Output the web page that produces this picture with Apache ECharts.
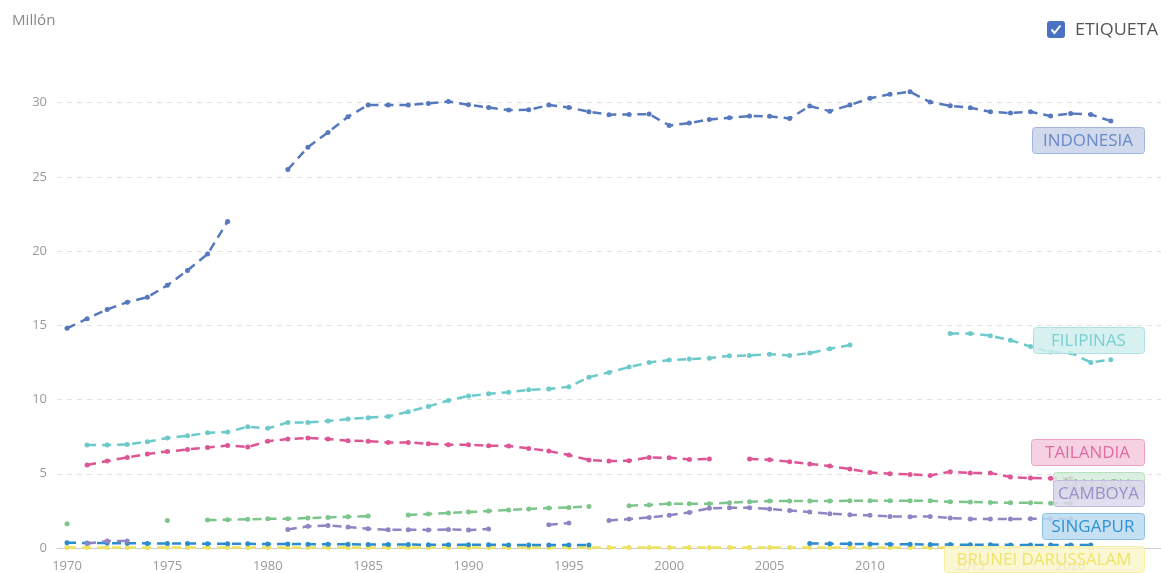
<!DOCTYPE html>
<html>
<head>
<meta charset="utf-8">
<script src="https://cdn.jsdelivr.net/npm/echarts@6/dist/echarts.min.js"></script>
<style>
  html, body { margin: 0; padding: 0; background: #fff; }
  #chart { width: 1161px; height: 573px; }
</style>
</head>
<body>
<div id="chart"></div>
<script>
  // años 1970 - 2024
  const years = [
    '1970','1971','1972','1973','1974','1975','1976','1977','1978','1979',
    '1980','1981','1982','1983','1984','1985','1986','1987','1988','1989',
    '1990','1991','1992','1993','1994','1995','1996','1997','1998','1999',
    '2000','2001','2002','2003','2004','2005','2006','2007','2008','2009',
    '2010','2011','2012','2013','2014','2015','2016','2017','2018','2019',
    '2020','2021','2022','2023','2024'
  ];

  const indonesia = [
    14.8, 15.45, 16.07, 16.56, 16.9, 17.7, 18.7, 19.8, 22.0, null,
    null, 25.5, 27.0, 28.0, 29.05, 29.85, 29.85, 29.84, 29.95, 30.08,
    29.86, 29.68, 29.5, 29.52, 29.84, 29.68, 29.39, 29.19, 29.21, 29.23,
    28.47, 28.63, 28.87, 28.98, 29.1, 29.08, 28.94, 29.77, 29.43, 29.84,
    30.3, 30.57, 30.73, 30.04, 29.79, 29.66, 29.39, 29.3, 29.39, 29.1,
    29.27, 29.21, 28.76, null, null
  ];
  const filipinas = [
    null, 6.94, 6.94, 6.98, 7.16, 7.41, 7.56, 7.76, 7.81, 8.17,
    8.06, 8.46, 8.46, 8.55, 8.69, 8.78, 8.86, 9.18, 9.54, 9.94,
    10.24, 10.39, 10.5, 10.66, 10.71, 10.86, 11.51, 11.83, 12.19, 12.5,
    12.66, 12.73, 12.79, 12.95, 12.97, 13.06, 12.97, 13.13, 13.42, 13.67,
    null, null, null, null, 14.45, 14.45, 14.3, 14.0, 13.57, 13.2,
    13.15, 12.5, 12.68, null, null
  ];
  const tailandia = [
    null, 5.59, 5.86, 6.1, 6.33, 6.5, 6.64, 6.77, 6.91, 6.8,
    7.2, 7.34, 7.41, 7.34, 7.23, 7.2, 7.11, 7.11, 7.02, 6.96,
    6.96, 6.89, 6.87, 6.71, 6.53, 6.26, 5.93, 5.86, 5.88, 6.1,
    6.08, 5.97, 6.0, null, 6.0, 5.95, 5.81, 5.66, 5.52, 5.32,
    5.09, 5.0, 4.96, 4.89, 5.14, 5.05, 5.05, 4.78, 4.71, 4.7,
    4.7, null, null, null, null
  ];
  const malasia = [
    1.64, null, null, null, null, 1.86, null, 1.88, 1.91, 1.93,
    1.97, 1.97, 2.02, 2.06, 2.11, 2.15, null, 2.22, 2.29, 2.36,
    2.42, 2.49, 2.56, 2.63, 2.69, 2.73, 2.8, null, 2.85, 2.9,
    2.98, 2.98, 2.98, 3.05, 3.12, 3.16, 3.17, 3.17, 3.17, 3.18,
    3.18, 3.18, 3.18, 3.18, 3.12, 3.1, 3.07, 3.05, 3.05, 3.02,
    3.0, null, null, null, null
  ];
  const camboya = [
    null, 0.3, 0.47, 0.47, null, null, null, null, null, null,
    null, 1.25, 1.46, 1.52, 1.41, 1.3, 1.23, 1.23, 1.22, 1.25,
    1.21, 1.28, null, null, 1.57, 1.68, null, 1.86, 1.95, 2.06,
    2.2, 2.4, 2.67, 2.71, 2.71, 2.63, 2.53, 2.42, 2.31, 2.24,
    2.2, 2.13, 2.11, 2.13, 2.02, 1.95, 1.95, 1.95, 1.97, 1.97,
    1.95, null, null, null, null
  ];
  const singapur = [
    0.35, 0.34, 0.33, 0.32, 0.31, 0.3, 0.3, 0.29, 0.28, 0.28,
    0.27, 0.27, 0.26, 0.26, 0.25, 0.24, 0.23, 0.23, 0.22, 0.22,
    0.22, 0.22, 0.21, 0.21, 0.21, 0.2, 0.2, null, null, null,
    null, null, null, null, null, null, null, 0.3, 0.29, 0.28,
    0.27, 0.26, 0.25, 0.24, 0.23, 0.22, 0.22, 0.21, 0.21, 0.2,
    0.2, 0.2, null, null, null
  ];
  const brunei = [
    0.03, 0.03, 0.03, 0.03, 0.03, 0.03, 0.03, 0.03, 0.03, 0.03,
    0.03, 0.03, 0.03, 0.03, 0.03, 0.03, 0.03, 0.03, 0.03, 0.03,
    0.03, 0.03, 0.03, 0.03, 0.03, 0.03, 0.03, 0.03, 0.03, 0.03,
    0.03, 0.03, 0.03, 0.03, 0.03, 0.03, 0.03, 0.03, 0.03, 0.03,
    0.03, 0.03, 0.03, 0.03, 0.03, 0.03, 0.03, 0.03, 0.03, 0.03,
    0.03, 0.03, null, null, null
  ];

  const yTicks = [0, 5, 10, 15, 20, 25, 30];

  // nombre, datos, color de línea, color del texto de la etiqueta
  const paises = [
    { name: 'BRUNEI DARUSSALAM', data: brunei, color: '#eee35c', text: '#efe46a' },
    { name: 'SINGAPUR', data: singapur, color: '#2b8dd0', text: '#2f92d6' },
    { name: 'CAMBOYA', data: camboya, color: '#9284c4', text: '#9a8dca' },
    { name: 'MALASIA', data: malasia, color: '#7cc68b', text: '#86c994' },
    { name: 'TAILANDIA', data: tailandia, color: '#de5595', text: '#df6ba3' },
    { name: 'FILIPINAS', data: filipinas, color: '#6ccacb', text: '#7bcfd0' },
    { name: 'INDONESIA', data: indonesia, color: '#5578be', text: '#6a88c7' }
  ];

  // caja de cada etiqueta: centro vertical y ancho en px; se dibujan en este orden
  const etiquetas = [
    ['INDONESIA', 140, 112],
    ['FILIPINAS', 340, 111],
    ['TAILANDIA', 452, 113],
    ['MALASIA', 485, 91],
    ['CAMBOYA', 493, 91],
    ['SINGAPUR', 526, 102],
    ['BRUNEI DARUSSALAM', 559, 200]
  ];
  const labelRight = 1144;

  function tint(hex, a, w) {
    const n = parseInt(hex.slice(1), 16);
    const r = (n >> 16) & 255, g = (n >> 8) & 255, b = n & 255;
    const m = c => Math.round(c + (255 - c) * w);
    return 'rgba(' + m(r) + ',' + m(g) + ',' + m(b) + ',' + a + ')';
  }

  const chart = echarts.init(document.getElementById('chart'));

  const labelGraphics = [];
  etiquetas.forEach(([name, cy, w], i) => {
    const p = paises.find(q => q.name === name);
    labelGraphics.push({
      type: 'rect',
      z: 100 + i * 2,
      shape: { x: labelRight - w + 0.5, y: cy - 13 + 0.5, width: w, height: 26, r: 3 },
      style: {
        fill: tint(p.color, 0.85, 0.68),
        stroke: tint(p.color, 1, 0.45),
        lineWidth: 1
      }
    });
    labelGraphics.push({
      type: 'text',
      z: 101 + i * 2,
      x: labelRight - w / 2,
      y: cy + 1,
      scaleX: 1.06,
      style: {
        text: name,
        fill: p.text,
        fontSize: 16,
        fontFamily: 'Open Sans',
        align: 'center',
        verticalAlign: 'middle'
      }
    });
  });

  const option = {
    animation: false,
    textStyle: { fontFamily: 'Open Sans' },
    grid: { left: 57, top: 73, width: 1109, bottom: 25, containLabel: false },
    xAxis: {
      type: 'category',
      data: years,
      boundaryGap: true,
      axisLine: { lineStyle: { color: '#ccc' } },
      axisTick: { interval: 4, alignWithLabel: true, length: 5, lineStyle: { color: '#ccc' } },
      axisLabel: { interval: 4, color: '#999', fontSize: 13, margin: 12 }
    },
    yAxis: {
      type: 'value',
      min: 0,
      max: 32,
      interval: 5,
      axisLine: { show: false },
      axisTick: { show: false },
      axisLabel: {
        color: '#999',
        fontSize: 13,
        margin: 10,
        showMaxLabel: false,
        formatter: v => (yTicks.includes(v) ? String(v) : '')
      },
      splitLine: { showMaxLine: false, lineStyle: { color: '#e2e2e2', type: [5, 5] } }
    },
    series: paises.map(p => ({
      name: p.name,
      type: 'line',
      data: p.data,
      connectNulls: false,
      showAllSymbol: true,
      symbol: 'circle',
      symbolSize: 5,
      itemStyle: { color: p.color },
      lineStyle: { color: p.color, width: 2.5, type: [9, 6] }
    })),
    graphic: [
      {
        type: 'text',
        z: 100,
        x: 12,
        y: 21,
        scaleX: 1.08,
        style: {
          text: 'Millón',
          fill: '#888',
          fontSize: 14,
          fontFamily: 'Open Sans',
          verticalAlign: 'middle'
        }
      },
      {
        type: 'rect',
        z: 100,
        shape: { x: 1047, y: 21, width: 18, height: 17, r: 3 },
        style: { fill: '#4a72c0' }
      },
      {
        type: 'polyline',
        z: 101,
        shape: { points: [[1051.5, 29.5], [1054.5, 33], [1060.5, 25.5]] },
        style: { stroke: '#fff', lineWidth: 2, fill: null }
      },
      {
        type: 'text',
        z: 100,
        x: 1075,
        y: 30,
        scaleX: 1.12,
        style: {
          text: 'ETIQUETA',
          fill: '#555',
          fontSize: 16,
          fontFamily: 'Open Sans',
          verticalAlign: 'middle'
        }
      }
    ].concat(labelGraphics)
  };

  chart.setOption(option);
</script>
</body>
</html>
